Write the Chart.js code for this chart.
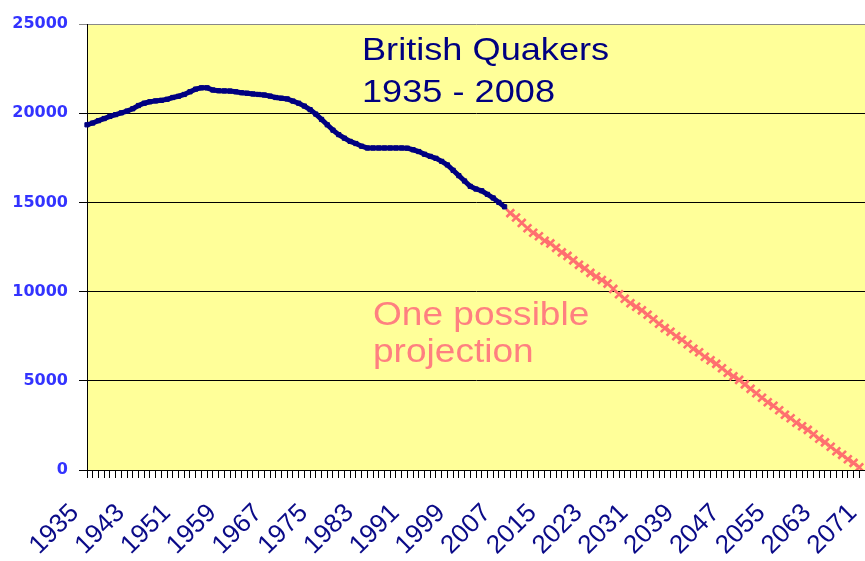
<!DOCTYPE html>
<html>
<head>
<meta charset="utf-8">
<script src="https://cdn.jsdelivr.net/npm/chart.js@4"></script>
<style>
    html, body { margin: 0; padding: 0; background: #ffffff; }
    #wrap { width: 865px; height: 561px; }
</style>
</head>
<body>
<div id="wrap"><canvas id="quakerChart" width="865" height="561"></canvas></div>
<script>
// Годы на оси X (1935 - 2071)
const firstYear = 1935;
const lastYear = 2071;
const years = Array.from({ length: lastYear - firstYear + 1 }, (_, i) => String(firstYear + i));

// Численность британских квакеров 1935 - 2008
const members = [
    19350, 19450, 19580, 19700, 19820, 19920, 20020, 20120, 20250, 20430,
    20560, 20640, 20690, 20720, 20780, 20880, 20950, 21050, 21200, 21350,
    21420, 21420, 21300, 21260, 21250, 21240, 21200, 21150, 21120, 21080,
    21050, 21020, 20960, 20880, 20840, 20800, 20680, 20560, 20400, 20200,
    19950, 19650, 19350, 19050, 18800, 18600, 18420, 18300, 18150, 18050,
    18050, 18050, 18050, 18050, 18050, 18050, 18040, 17950, 17850, 17700,
    17580, 17470, 17300, 17100, 16800, 16500, 16200, 15900, 15750, 15650,
    15450, 15250, 15000, 14750
];

// Один из возможных прогнозов 2009 - 2070
const projection = [
    14400, 14150, 13850, 13550, 13300, 13100, 12850, 12700, 12450, 12200,
    12000, 11750, 11500, 11300, 11050, 10850, 10650, 10450, 10150, 9850,
    9600, 9350, 9150, 8950, 8700, 8450, 8200, 7950, 7750, 7500,
    7300, 7050, 6800, 6600, 6350, 6150, 5950, 5700, 5450, 5250,
    5050, 4800, 4550, 4300, 4050, 3800, 3600, 3350, 3100, 2900,
    2650, 2450, 2250, 2000, 1750, 1550, 1300, 1050, 850, 600,
    400, 150
];

// Деления оси Y
const yTicks = [0, 5000, 10000, 15000, 20000, 25000];

// Подписи на графике
const titleLines = ['British Quakers', '1935 - 2008'];
const projectionLines = ['One possible', 'projection'];

// Выравниваем ряды по годам
const actualData = years.map((_, i) => (i < members.length ? members[i] : null));
const projectionData = years.map((_, i) => {
    const j = i - members.length;
    return j >= 0 && j < projection.length ? projection[j] : null;
});

// Фон области построения и текстовые надписи
const plotDecor = {
    id: 'plotDecor',
    beforeDraw(chart) {
        const { ctx, chartArea: a } = chart;
        ctx.save();
        ctx.fillStyle = '#ffffff';
        ctx.fillRect(0, 0, chart.width, chart.height);
        ctx.fillStyle = '#ffff99';
        ctx.fillRect(a.left, a.top, a.right - a.left, a.bottom - a.top);
        ctx.restore();
    },
    afterDraw(chart) {
        const { ctx } = chart;
        const drawText = (lines, x, y0, step, size, sx, color) => {
            ctx.save();
            ctx.fillStyle = color;
            ctx.font = size + 'px "Liberation Sans", Arial, sans-serif';
            ctx.textBaseline = 'alphabetic';
            ctx.textAlign = 'left';
            lines.forEach((line, i) => {
                ctx.save();
                ctx.translate(x, y0 + i * step);
                ctx.scale(sx, 1);
                ctx.fillText(line, 0, 0);
                ctx.restore();
            });
            ctx.restore();
        };
        drawText(titleLines, 362, 60, 42, 32, 1.13, '#000080');
        drawText(projectionLines, 373, 325, 37, 34, 1.09, '#ff8080');
    }
};

const ctx = document.getElementById('quakerChart').getContext('2d');
new Chart(ctx, {
    type: 'line',
    data: {
        labels: years,
        datasets: [
            {
                label: 'British Quakers',
                data: actualData,
                borderColor: '#000080',
                backgroundColor: '#000080',
                borderWidth: 5,
                pointStyle: 'rect',
                pointRadius: 3,
                pointBorderWidth: 1,
                tension: 0
            },
            {
                label: 'One possible projection',
                data: projectionData,
                showLine: false,
                borderColor: '#ff6f6f',
                backgroundColor: '#ff6f6f',
                pointStyle: 'crossRot',
                pointRadius: 5.5,
                pointBorderWidth: 2.6
            }
        ]
    },
    options: {
        responsive: false,
        animation: false,
        layout: {
            autoPadding: false,
            padding: { top: 24, left: 0, right: 0, bottom: 0 }
        },
        plugins: {
            legend: { display: false },
            tooltip: { enabled: false },
            title: { display: false }
        },
        scales: {
            x: {
                type: 'category',
                offset: false,
                grid: {
                    display: true,
                    drawOnChartArea: false,
                    drawTicks: true,
                    tickLength: 8,
                    color: '#000000',
                    offset: false
                },
                border: { display: true, color: '#000000', width: 1 },
                ticks: {
                    autoSkip: false,
                    maxRotation: 45,
                    minRotation: 45,
                    padding: 20,
                    labelOffset: -12,
                    color: '#0a0a88',
                    font: { family: '"Liberation Sans", Arial, sans-serif', size: 26 },
                    callback: function(value, index) {
                        return index % 8 === 0 ? this.getLabelForValue(value) : '';
                    }
                },
                afterFit(scale) {
                    scale.height = 91;
                    scale.paddingLeft = 0;
                    scale.paddingRight = 0;
                }
            },
            y: {
                min: 0,
                max: 25000,
                afterBuildTicks(scale) {
                    scale.ticks = yTicks.map(v => ({ value: v }));
                },
                grid: {
                    color: (c) => (c.tick && c.tick.value === 25000 ? '#888888' : '#000000'),
                    lineWidth: 1,
                    drawTicks: true,
                    tickLength: 8
                },
                border: { display: true, color: '#000000', width: 1 },
                ticks: {
                    padding: 11,
                    color: '#3333ff',
                    font: { family: '"DejaVu Sans", Verdana, sans-serif', size: 16, weight: 'bold' },
                    callback: (value) => String(value)
                },
                afterFit(scale) {
                    scale.width = 87;
                    scale.paddingTop = 0;
                    scale.paddingBottom = 0;
                }
            }
        }
    },
    plugins: [plotDecor]
});
</script>
</body>
</html>
